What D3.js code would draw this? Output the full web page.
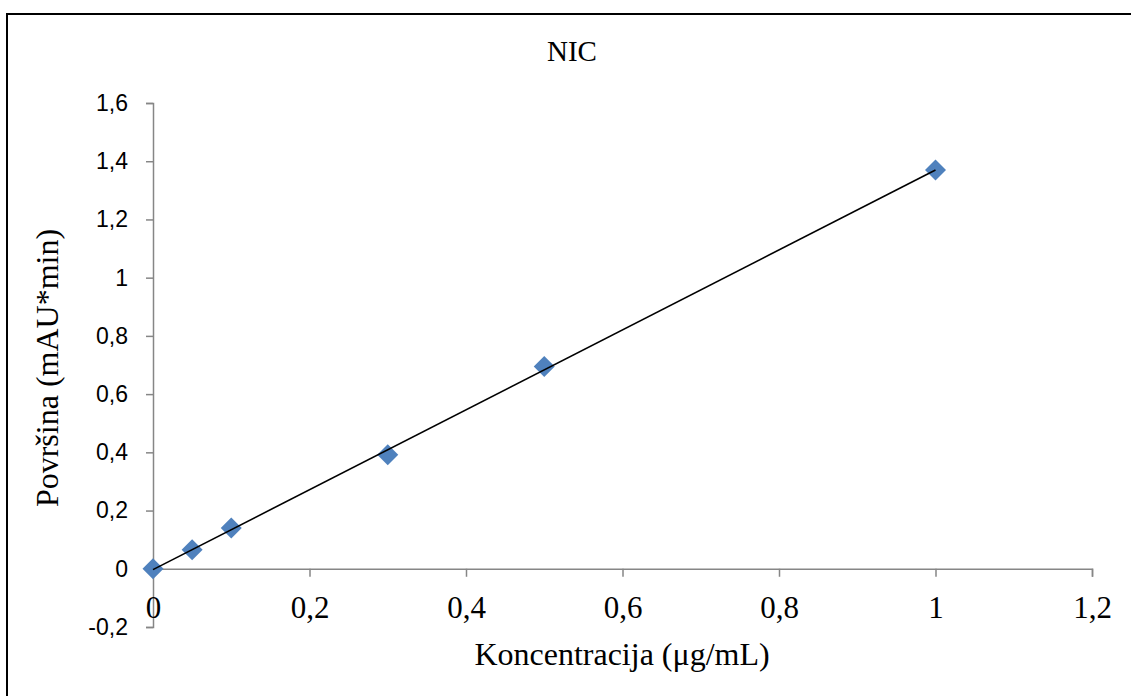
<!DOCTYPE html>
<html><head><meta charset="utf-8">
<script src="https://cdn.jsdelivr.net/npm/d3@7"></script>
<style>body{margin:0;background:#fff}</style>
</head><body>
<script>
const concentrations = [0, 0.05, 0.1, 0.3, 0.5, 1];
const areas = [0.0, 0.065, 0.14, 0.392, 0.695, 1.37];
const trendX = [0, 1];
const trendY = [-0.003, 1.37];
const xTicks = [0, 0.2, 0.4, 0.6, 0.8, 1, 1.2];
const yTicks = [-0.2, 0, 0.2, 0.4, 0.6, 0.8, 1, 1.2, 1.4, 1.6];
const title = "NIC";
const xTitle = "Koncentracija (\u03bcg/mL)";
const yTitle = "Površina (mAU*min)";

const W = 1131, H = 696;
const svg = d3.select("body").append("svg").attr("width", W).attr("height", H);
svg.append("rect").attr("x", 7).attr("y", 14).attr("width", W).attr("height", H)
  .attr("fill", "#fff").attr("stroke", "#000").attr("stroke-width", 2);

const x = d3.scaleLinear().domain([0, 1.2]).range([153, 1092]);
const y = d3.scaleLinear().domain([-0.2, 1.6]).range([627, 103]);
const fmt = d => String(+d.toFixed(2)).replace(".", ",");
const axisColor = "#868686";

// Y axis
const yAx = svg.append("g").attr("transform", `translate(${x(0)},0)`)
  .call(d3.axisLeft(y).tickValues(yTicks).tickSize(7).tickPadding(18).tickFormat(fmt));
yAx.select(".domain").attr("stroke", axisColor).attr("stroke-width", 1.5);
yAx.selectAll(".tick line").attr("stroke", axisColor).attr("stroke-width", 1.5);
yAx.selectAll(".tick text").attr("fill", "#000").style("font-family", "'Liberation Sans', Arial, sans-serif").style("font-size", "23px");

// X axis at y=0
const xAx = svg.append("g").attr("transform", `translate(0,${y(0)})`)
  .call(d3.axisBottom(x).tickValues(xTicks).tickSize(8).tickSizeOuter(8).tickFormat(fmt));
xAx.select(".domain").attr("stroke", axisColor).attr("stroke-width", 1.5);
xAx.selectAll(".tick line").attr("stroke", axisColor).attr("stroke-width", 1.5);
xAx.selectAll(".tick text").attr("fill", "#000").attr("y", 0).attr("dy", 0)
  .attr("transform", `translate(0,${y(-0.2) - y(0) - 9})`)
  .style("font-family", "'Liberation Serif', 'Times New Roman', serif").style("font-size", "31px");

// Markers
svg.append("g").selectAll("path").data(concentrations).join("path")
  .attr("d", d3.symbol(d3.symbolSquare, 220))
  .attr("transform", (d, i) => `translate(${x(d)},${y(areas[i])}) rotate(45)`)
  .attr("fill", "#4f81bd");

// Trendline
svg.append("line")
  .attr("x1", x(trendX[0])).attr("y1", y(trendY[0]))
  .attr("x2", x(trendX[1])).attr("y2", y(trendY[1]))
  .attr("stroke", "#000").attr("stroke-width", 1.6);

// Titles
svg.append("text").attr("x", 572).attr("y", 61).attr("text-anchor", "middle")
  .style("font-family", "'Liberation Serif', serif").style("font-size", "29px").text(title);
svg.append("text").attr("x", 622).attr("y", 665).attr("text-anchor", "middle")
  .style("font-family", "'Liberation Serif', serif").style("font-size", "32px").text(xTitle);
svg.append("text").attr("transform", "translate(58,368) rotate(-90)").attr("text-anchor", "middle")
  .style("font-family", "'Liberation Serif', serif").style("font-size", "32px").text(yTitle);
</script>
</body></html>
